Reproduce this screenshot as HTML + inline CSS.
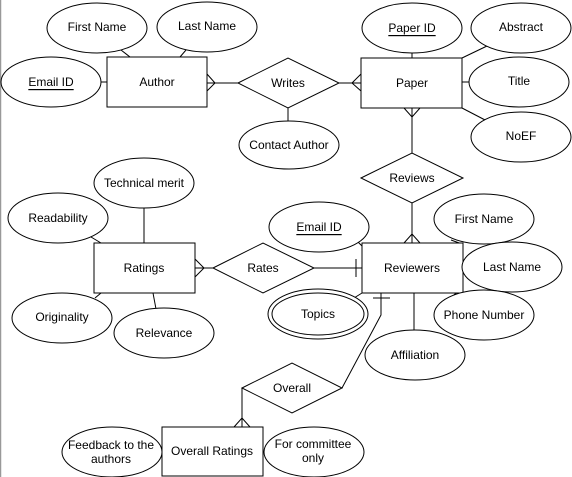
<!DOCTYPE html>
<html><head><style>
html,body{margin:0;padding:0;background:#fff;}
svg{display:block;}
text{font-family:"Liberation Sans",Arial,sans-serif;font-size:12px;fill:#000;text-anchor:middle;dominant-baseline:central;}
</style></head><body>
<svg width="572" height="477" viewBox="0 0 572 477" xmlns="http://www.w3.org/2000/svg">
<rect x="0" y="0" width="572" height="477" fill="#fff"/>
<line x1="0.5" y1="0" x2="0.5" y2="477" stroke="#999" stroke-width="1.5"/>
<g fill="#fff" stroke="#000" stroke-width="1">
<!-- lines -->
<line x1="121" y1="50" x2="130" y2="57"/>
<line x1="186" y1="50" x2="180" y2="57"/>
<line x1="101" y1="82" x2="107" y2="82"/>
<line x1="288" y1="108" x2="288" y2="121"/>
<line x1="412" y1="53" x2="412" y2="58"/>
<line x1="462" y1="58" x2="487" y2="46"/>
<line x1="462" y1="82" x2="469" y2="82"/>
<line x1="462" y1="108" x2="487" y2="121"/>
<line x1="144" y1="208" x2="144" y2="243"/>
<line x1="91" y1="237" x2="101" y2="243"/>
<line x1="95" y1="298" x2="101" y2="293"/>
<line x1="153" y1="293" x2="156" y2="309"/>
<line x1="356" y1="240" x2="362" y2="246"/>
<line x1="451" y1="240" x2="462" y2="244"/>
<line x1="453" y1="296" x2="457" y2="292"/>
<line x1="354" y1="298" x2="362" y2="293"/>
<line x1="414" y1="293" x2="414" y2="331"/>
<!-- relationships -->
<line x1="207" y1="83" x2="238" y2="83"/>
<polyline points="207,74 215,83 207,91" fill="none"/>
<line x1="339" y1="83" x2="361" y2="83"/>
<polyline points="361,74 352,83 361,91" fill="none"/>
<line x1="412" y1="108" x2="412" y2="153"/>
<polyline points="404,108 412,117 420,108" fill="none"/>
<line x1="412" y1="203" x2="412" y2="243"/>
<polyline points="404,243 412,234 420,243" fill="none"/>
<line x1="195" y1="268" x2="213" y2="268"/>
<polyline points="195,259 204,268 195,277" fill="none"/>
<line x1="314" y1="268" x2="362" y2="268"/>
<line x1="356" y1="259" x2="356" y2="277"/>
<polyline points="381,293 381,315 342,388" fill="none"/>
<line x1="373" y1="298" x2="390" y2="298"/>
<line x1="242" y1="388" x2="242" y2="427"/>
<polyline points="234,427 242,418 250,427" fill="none"/>
<!-- entities -->
<rect x="107" y="57" width="100" height="50"/>
<rect x="361" y="58" width="101" height="50"/>
<rect x="94" y="243" width="101" height="50"/>
<rect x="362" y="243" width="101" height="50"/>
<rect x="162" y="427" width="101" height="49"/>
<!-- diamonds -->
<polygon points="238,83 288,58 339,83 288,108"/>
<polygon points="361,178 412,153 463,178 412,203"/>
<polygon points="213,268 263,243 314,268 263,293"/>
<polygon points="242,388 292,363 342,388 292,413"/>
<!-- attributes -->
<ellipse cx="97" cy="28" rx="50" ry="25"/>
<ellipse cx="207" cy="27" rx="50" ry="25"/>
<ellipse cx="51" cy="82" rx="50" ry="25"/>
<ellipse cx="289" cy="145" rx="50" ry="24"/>
<ellipse cx="412" cy="28" rx="50" ry="25"/>
<ellipse cx="521" cy="28" rx="50" ry="25"/>
<ellipse cx="519" cy="82" rx="50" ry="25"/>
<ellipse cx="521" cy="137" rx="50" ry="25"/>
<ellipse cx="144" cy="183" rx="50" ry="25"/>
<ellipse cx="58" cy="218" rx="50" ry="25"/>
<ellipse cx="319" cy="227" rx="50" ry="25"/>
<ellipse cx="484" cy="219" rx="50" ry="25"/>
<ellipse cx="512" cy="267" rx="50" ry="25"/>
<ellipse cx="484" cy="315" rx="50" ry="25"/>
<ellipse cx="318" cy="314" rx="50" ry="25"/>
<ellipse cx="318" cy="314" rx="46" ry="21"/>
<ellipse cx="415" cy="355" rx="50" ry="25"/>
<ellipse cx="62" cy="318" rx="50" ry="25"/>
<ellipse cx="164" cy="333" rx="50" ry="25"/>
<ellipse cx="112" cy="452" rx="50" ry="25"/>
<ellipse cx="314" cy="452" rx="50" ry="25"/>
</g>
<text x="97" y="27">First Name</text>
<text x="207" y="26">Last Name</text>
<text x="51" y="82" text-decoration="underline">Email ID</text>
<text x="157" y="82">Author</text>
<text x="288" y="83">Writes</text>
<text x="289" y="145">Contact Author</text>
<text x="412" y="28" text-decoration="underline">Paper ID</text>
<text x="412" y="83">Paper</text>
<text x="521" y="27">Abstract</text>
<text x="519" y="81">Title</text>
<text x="521" y="136">NoEF</text>
<text x="412" y="178">Reviews</text>
<text x="144" y="183">Technical merit</text>
<text x="58" y="218">Readability</text>
<text x="319" y="227" text-decoration="underline">Email ID</text>
<text x="484" y="219">First Name</text>
<text x="144" y="268">Ratings</text>
<text x="263" y="268">Rates</text>
<text x="412" y="268">Reviewers</text>
<text x="512" y="267">Last Name</text>
<text x="318" y="314">Topics</text>
<text x="484" y="315">Phone Number</text>
<text x="62" y="317">Originality</text>
<text x="164" y="333">Relevance</text>
<text x="415" y="355">Affiliation</text>
<text x="292" y="388">Overall</text>
<text x="212" y="451">Overall Ratings</text>
<text x="111" y="445">Feedback to the</text>
<text x="111" y="459">authors</text>
<text x="313" y="444">For committee</text>
<text x="313" y="458">only</text>
</svg>
</body></html>
